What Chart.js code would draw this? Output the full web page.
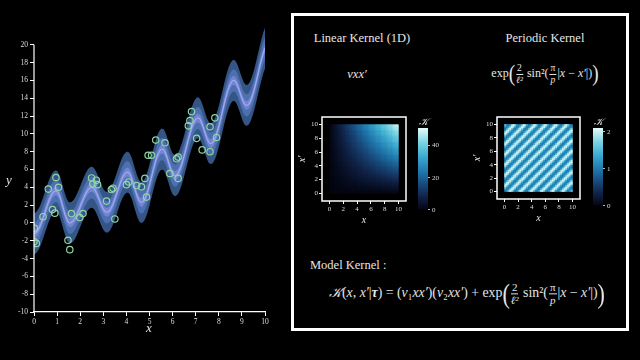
<!DOCTYPE html>
<html>
<head>
<meta charset="utf-8">
<script src="https://cdn.jsdelivr.net/npm/chart.js@4.4.1/dist/chart.umd.min.js"></script>
<style>
  html, body { margin: 0; padding: 0; background: #000; width: 640px; height: 360px; overflow: hidden; }
  canvas { position: absolute; }
  .txt { position: absolute; color: #e6e6e6; font-family: "Liberation Serif", "DejaVu Serif", serif; white-space: nowrap; }
  .c { transform: translate(-50%, -50%); }
  .l { transform: translate(0, -50%); }
  .it { font-style: italic; }
  .frac { display: inline-flex; flex-direction: column; align-items: center; vertical-align: middle; font-size: 0.8em; line-height: 1.1; margin: 0 1px; }
  .frac > span:first-child { border-bottom: 1px solid #e6e6e6; padding: 0 1px; }
  .big { display: inline-block; font-size: 1.6em; transform: scaleY(1.2); vertical-align: middle; line-height: 1; }
  #panel { position: absolute; left: 291px; top: 13px; width: 332px; height: 312px; border: 3px solid #fff; }
</style>
</head>
<body>
<canvas id="gp" width="275" height="320" style="left:0px;top:20px"></canvas>
<div class="txt c it" style="left:9px;top:180px;font-size:13px">y</div>
<div class="txt c it" style="left:149px;top:328px;font-size:13px">x</div>

<div id="panel"></div>
<div class="txt c" style="left:362px;top:38px;font-size:12.5px">Linear Kernel (1D)</div>
<div class="txt c" style="left:545px;top:38px;font-size:12.5px">Periodic Kernel</div>
<div class="txt c it" style="left:357px;top:74px;font-size:12.5px">vxx′</div>
<div class="txt c" style="left:545px;top:74px;font-size:12px">exp<span class="big">(</span><span class="frac"><span>2</span><span class="it">ℓ²</span></span> sin²(<span class="frac"><span>π</span><span class="it">p</span></span>|<span class="it">x</span> − <span class="it">x′</span>|)<span class="big">)</span></div>

<canvas id="heatLin" width="118" height="118" style="left:296px;top:108px"></canvas>
<canvas id="barLin" width="36" height="96" style="left:414px;top:120px"></canvas>
<div class="txt c it" style="left:423px;top:122px;font-size:10px">𝒦</div>

<canvas id="heatPer" width="117" height="116" style="left:471px;top:108px"></canvas>
<canvas id="barPer" width="36" height="92" style="left:589px;top:120px"></canvas>
<div class="txt c it" style="left:598px;top:122px;font-size:10px">𝒦</div>

<div class="txt l" style="left:310px;top:265px;font-size:12.5px">Model Kernel :</div>
<div class="txt l" style="left:329px;top:294px;font-size:13.8px"><span class="it">𝒦</span>(<span class="it">x</span>, <span class="it">x′</span>|<b class="it">τ</b>) = (<span class="it">v</span>₁<span class="it">xx′</span>)(<span class="it">v</span>₂<span class="it">xx′</span>) + exp<span class="big">(</span><span class="frac"><span>2</span><span class="it">ℓ²</span></span> sin²(<span class="frac"><span>π</span><span class="it">p</span></span>|<span class="it">x</span> − <span class="it">x′</span>|)<span class="big">)</span></div>

<script>
// posterior mean, every 0.1 on x
const gridX = [0,0.1,0.2,0.3,0.4,0.5,0.6,0.7,0.8,0.9,1,1.1,1.2,1.3,1.4,1.5,1.6,1.7,1.8,1.9,2,2.1,2.2,2.3,2.4,2.5,2.6,2.7,2.8,2.9,3,3.1,3.2,3.3,3.4,3.5,3.6,3.7,3.8,3.9,4,4.1,4.2,4.3,4.4,4.5,4.6,4.7,4.8,4.9,5,5.1,5.2,5.3,5.4,5.5,5.6,5.7,5.8,5.9,6,6.1,6.2,6.3,6.4,6.5,6.6,6.7,6.8,6.9,7,7.1,7.2,7.3,7.4,7.5,7.6,7.7,7.8,7.9,8,8.1,8.2,8.3,8.4,8.5,8.6,8.7,8.8,8.9,9,9.1,9.2,9.3,9.4,9.5,9.6,9.7,9.8,9.9,10];
const meanY = [-1.2,-1.07,-0.69,-0.11,0.61,1.4,2.16,2.82,3.31,3.57,3.54,3.07,2.27,1.33,0.53,0.06,0.03,0.24,0.65,1.2,1.83,2.49,3.09,3.58,3.89,4.0,3.84,3.4,2.77,2.1,1.55,1.24,1.24,1.5,2.0,2.68,3.45,4.22,4.9,5.4,5.67,5.64,5.2,4.44,3.56,2.8,2.36,2.35,2.7,3.37,4.27,5.3,6.33,7.23,7.9,8.25,8.24,7.78,7.01,6.18,5.54,5.3,5.46,5.92,6.64,7.55,8.55,9.56,10.46,11.18,11.64,11.8,11.57,10.95,10.14,9.4,8.96,8.94,9.28,9.94,10.84,11.9,13.0,14.06,14.96,15.61,15.96,15.94,15.52,14.8,14.02,13.42,13.2,13.37,13.87,14.66,15.65,16.75,17.85,18.84,19.63];
// half widths of the shaded bands
const outerHalf = 2.3;
const innerHalf = 1.25;
const coreHalf = 0.5;

// observations (green circles)
const obsX = [0.02,0.0,0.1,0.39,0.62,0.8,0.9,0.95,1.06,1.47,1.55,1.62,1.98,2.12,2.49,2.55,2.7,2.75,3.14,3.35,3.42,3.5,4.0,4.1,4.44,4.65,4.8,4.87,4.94,5.09,5.27,5.67,5.88,6.17,6.24,6.24,6.68,6.75,6.82,7.04,7.28,7.62,7.62,7.83,7.9];
const obsY = [-0.6,-2.1,-2.3,0.7,3.8,1.5,1.1,5.1,4.0,-1.95,-3.0,1.05,0.6,1.05,5.05,4.4,4.8,4.3,2.45,3.75,3.9,0.45,4.3,4.6,4.2,4.05,5.0,2.9,7.6,7.6,9.3,9.0,5.55,7.2,5.0,7.4,10.9,11.5,12.5,9.5,8.2,8.0,10.8,11.8,9.6];

const gpTicksX = [0,1,2,3,4,5,6,7,8,9,10];
const gpTicksY = [-10,-8,-6,-4,-2,0,2,4,6,8,10,12,14,16,18,20];

// kernel hyper-parameters
const linearVariance = 0.5;
const periodicLength = 1.64;
const periodicPeriod = 1.55;
const heatTicks = [0,2,4,6,8,10];
const linBarTicks = [0,20,40];
const linBarMax = 51;
const perBarTicks = [0,1,2];
const perBarMax = 2.1;
const heatCells = 40;

Chart.defaults.font.family = '"Liberation Serif", "DejaVu Serif", serif';
Chart.defaults.color = '#dddddd';

const serif = '"Liberation Serif", "DejaVu Serif", serif';

function band(off) {
  return meanY.map((m, i) => ({ x: gridX[i], y: m + off }));
}

// ice-like colormap
const cmap = [
  [0.0, [3, 5, 16]],
  [0.15, [16, 32, 68]],
  [0.3, [24, 70, 120]],
  [0.45, [30, 115, 168]],
  [0.65, [58, 170, 210]],
  [0.82, [120, 212, 228]],
  [1.0, [230, 250, 250]]
];
function colorAt(t) {
  t = Math.max(0, Math.min(1, t));
  for (let i = 1; i < cmap.length; i++) {
    if (t <= cmap[i][0]) {
      const a = cmap[i - 1], b = cmap[i];
      const f = (t - a[0]) / (b[0] - a[0]);
      const c = a[1].map((v, k) => Math.round(v + (b[1][k] - v) * f));
      return 'rgb(' + c.join(',') + ')';
    }
  }
  return 'rgb(230,250,250)';
}

const noUi = { animation: false, responsive: false, events: [], plugins: { legend: { display: false }, tooltip: { enabled: false } } };

// y axis line only spans the tick range (-10..20), the bands may run above it
const yAxisLine = {
  id: 'yAxisLine',
  afterDraw(chart) {
    const sy = chart.scales.y, c = chart.ctx, x = chart.chartArea.left;
    c.save();
    c.strokeStyle = '#ffffff';
    c.lineWidth = 1.2;
    c.beginPath();
    c.moveTo(x, sy.getPixelForValue(gpTicksY[0]));
    c.lineTo(x, sy.getPixelForValue(gpTicksY[gpTicksY.length - 1]));
    c.stroke();
    c.restore();
  }
};

// ---- left: GP regression ----
const bandStyle = { borderWidth: 0, pointRadius: 0, tension: 0.3 };
new Chart(document.getElementById('gp'), {
  type: 'line',
  data: {
    datasets: [
      { type: 'scatter', data: obsX.map((x, i) => ({ x: x, y: obsY[i] })), pointRadius: 3.2, pointBorderWidth: 1.2,
        pointBorderColor: '#8fd6a4', pointBackgroundColor: 'rgba(0,0,0,0)' },
      { data: band(0), borderColor: '#a0aaee', borderWidth: 1.2, pointRadius: 0, fill: false, tension: 0.3 },
      { ...bandStyle, data: band(coreHalf), fill: '+1', backgroundColor: 'rgba(128,140,222,0.75)' },
      { ...bandStyle, data: band(-coreHalf), fill: false },
      { ...bandStyle, data: band(innerHalf), fill: '+1', backgroundColor: '#4d70b0' },
      { ...bandStyle, data: band(-innerHalf), fill: false },
      { ...bandStyle, data: band(outerHalf), fill: '+1', backgroundColor: '#345585' },
      { ...bandStyle, data: band(-outerHalf), fill: false }
    ]
  },
  options: {
    ...noUi,
    layout: { padding: { top: 7, right: 10, left: 0, bottom: 0 } },
    scales: {
      x: {
        type: 'linear', min: 0, max: 10,
        afterBuildTicks: s => { s.ticks = gpTicksX.map(v => ({ value: v })); },
        afterFit: s => { s.height = 28; },
        grid: { drawOnChartArea: false, color: '#ffffff', tickLength: 4 },
        border: { color: '#ffffff', width: 1.2 },
        ticks: { color: '#dddddd', font: { family: serif, size: 7.5 }, padding: 2, maxRotation: 0 }
      },
      y: {
        min: -10, max: 22,
        afterBuildTicks: s => { s.ticks = gpTicksY.map(v => ({ value: v })); },
        afterFit: s => { s.width = 34; },
        grid: { drawOnChartArea: false, color: '#ffffff', tickLength: 4 },
        border: { display: false },
        ticks: { color: '#dddddd', font: { family: serif, size: 7.5 }, padding: 2 }
      }
    }
  },
  plugins: [yAxisLine]
});

// ---- right: kernel heatmaps ----
const framePlugin = {
  id: 'frame',
  afterDraw(chart) {
    const a = chart.chartArea, c = chart.ctx;
    c.save();
    c.strokeStyle = '#ffffff';
    c.lineWidth = 1.5;
    c.strokeRect(a.left, a.top, a.right - a.left, a.bottom - a.top);
    c.restore();
  }
};

function kernelLinear(a, b) { return linearVariance * a * b; }
function kernelPeriodic(a, b) {
  const s = Math.sin(Math.PI * Math.abs(a - b) / periodicPeriod);
  return Math.exp(2 / (periodicLength * periodicLength) * s * s);
}

function heatmap(id, kernel, vmax) {
  const step = 10 / heatCells;
  const cells = [];
  for (let i = 0; i < heatCells; i++) {
    for (let j = 0; j < heatCells; j++) {
      const x = (i + 0.5) * step, y = (j + 0.5) * step;
      cells.push({ x: x, y: y, v: kernel(x, y) });
    }
  }
  const axisCommon = {
    min: -1.1, max: 11.1,
    afterBuildTicks: s => { s.ticks = heatTicks.map(v => ({ value: v })); },
    grid: { drawOnChartArea: false, color: '#ffffff', tickLength: 3 },
    border: { display: false },
    ticks: { color: '#dddddd', font: { family: serif, size: 7 }, padding: 1, maxRotation: 0 }
  };
  new Chart(document.getElementById(id), {
    type: 'scatter',
    data: {
      datasets: [{
        data: cells,
        pointStyle: 'rect',
        pointBorderWidth: 0,
        pointRadius: ctx => {
          const sx = ctx.chart.scales.x;
          return Math.abs(sx.getPixelForValue(step) - sx.getPixelForValue(0)) / Math.SQRT2 + 0.35;
        },
        pointBackgroundColor: ctx => colorAt(ctx.raw.v / vmax)
      }]
    },
    options: {
      ...noUi,
      layout: { padding: { top: 9, right: 8, left: 0, bottom: 0 } },
      scales: {
        x: { ...axisCommon, type: 'linear', afterFit: s => { s.height = 25; },
             title: { display: true, text: 'x', color: '#e6e6e6', padding: 0, font: { family: serif, size: 10, style: 'italic' } } },
        y: { ...axisCommon, afterFit: s => { s.width = 26; },
             title: { display: true, text: 'x′', color: '#e6e6e6', padding: 0, font: { family: serif, size: 10, style: 'italic' } } }
      }
    },
    plugins: [framePlugin]
  });
}

function colorbar(id, ticks, vmax, padBottom) {
  new Chart(document.getElementById(id), {
    type: 'bar',
    data: {
      labels: [''],
      datasets: [{
        data: [[0, vmax]],
        barPercentage: 1, categoryPercentage: 1, borderWidth: 0,
        backgroundColor: ctx => {
          const a = ctx.chart.chartArea;
          if (!a) return '#000';
          const g = ctx.chart.ctx.createLinearGradient(0, a.bottom, 0, a.top);
          cmap.forEach(s => g.addColorStop(s[0], 'rgb(' + s[1].join(',') + ')'));
          return g;
        }
      }]
    },
    options: {
      ...noUi,
      layout: { padding: { top: 8, right: 0, left: 4, bottom: padBottom } },
      scales: {
        x: { display: false },
        y: {
          position: 'right', min: 0, max: vmax,
          afterBuildTicks: s => { s.ticks = ticks.map(v => ({ value: v })); },
          afterFit: s => { s.width = 22; },
          grid: { drawOnChartArea: false, color: '#bbbbbb', tickLength: 2 },
          border: { display: false },
          ticks: { color: '#dddddd', font: { family: serif, size: 7 }, padding: 2 }
        }
      }
    }
  });
}

heatmap('heatLin', kernelLinear, linBarMax);
heatmap('heatPer', kernelPeriodic, perBarMax);
colorbar('barLin', linBarTicks, linBarMax, 6);
colorbar('barPer', perBarTicks, perBarMax, 5);
</script>
</body>
</html>
